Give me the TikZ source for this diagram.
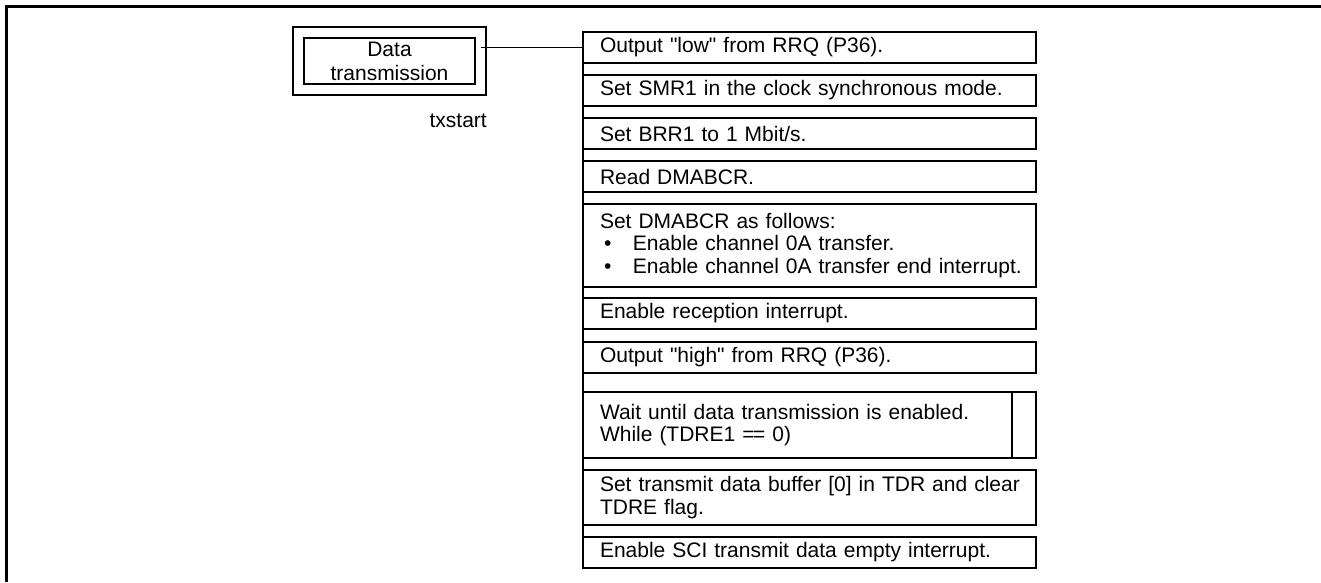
\documentclass[tikz,border=0pt]{standalone}
\usepackage{fontspec}
\newfontfamily\diafont{Liberation Sans}
\begin{document}
\begin{tikzpicture}[x=1pt,y=-1pt,
  txt/.style={font=\diafont\fontsize{21}{22.5}\selectfont},
  stepbox/.style={txt, draw, line width=1.7pt, anchor=north west, outer sep=0pt,
    minimum width=453pt, text width=419pt, inner xsep=17pt, inner ysep=0pt, align=left},
  link/.style={line width=1.2pt},
  spine/.style={line width=1.7pt},
  frame/.style={line width=2.5pt}
]
\useasboundingbox (0,0) rectangle (1321,582);
\coordinate (fr1) at (1321,6.3);
\coordinate (fr2) at (6.3,6.3);
\coordinate (fr3) at (6.3,582);
\draw[frame] (fr1) -- (fr2) -- (fr3);

% title block
\node[txt, draw, double, double distance=9.2pt, line width=1.8pt, outer sep=0pt,
      minimum width=182pt, minimum height=57pt, align=center, inner sep=0pt] (dt) at (389.5,61)
      {Data\\[1.5pt]transmission};
\node[txt, anchor=base east, inner sep=0pt] (tx) at (487,127) {txstart};

% steps
\node[stepbox, minimum height=31pt] (b1) at (583,32) {Output "low" from RRQ (P36).};
\node[stepbox, minimum height=31pt] (b2) at (583,75) {Set SMR1 in the clock synchronous mode.};
\node[stepbox, minimum height=31pt] (b3) at (583,118) {Set BRR1 to 1 Mbit/s.};
\node[stepbox, minimum height=31pt] (b4) at (583,161) {Read DMABCR.};
\node[stepbox, minimum height=83pt] (b5) at (583,204) {Set DMABCR as follows:\\
  \mbox{\hspace*{4pt}\makebox[29pt][l]{\textbullet}Enable channel 0A transfer.}\\
  \mbox{\hspace*{4pt}\makebox[29pt][l]{\textbullet}Enable channel 0A transfer end interrupt.}};
\node[stepbox, minimum height=31pt] (b6) at (583,298) {Enable reception interrupt.};
\node[stepbox, minimum height=31pt] (b7) at (583,342) {Output "high" from RRQ (P36).};
\node[stepbox, minimum height=66pt] (b8) at (583,392) {Wait until data transmission is enabled.\\While (TDRE1 =\kern-1.5pt= 0)};
\node[stepbox, minimum height=55pt] (b9) at (583,470) {\mbox{Set transmit data buffer [0] in TDR and clear}\\TDRE flag.};
\node[stepbox, minimum height=31pt] (b10) at (583,537) {Enable SCI transmit data empty interrupt.};

\draw[spine] ([xshift=-24pt]b8.north east) -- ([xshift=-24pt]b8.south east);
\draw[spine] (b1.north west) -- (b10.south west);
\draw[link] (b1.west -| dt.east) -- (b1.west);
\end{tikzpicture}
\end{document}
